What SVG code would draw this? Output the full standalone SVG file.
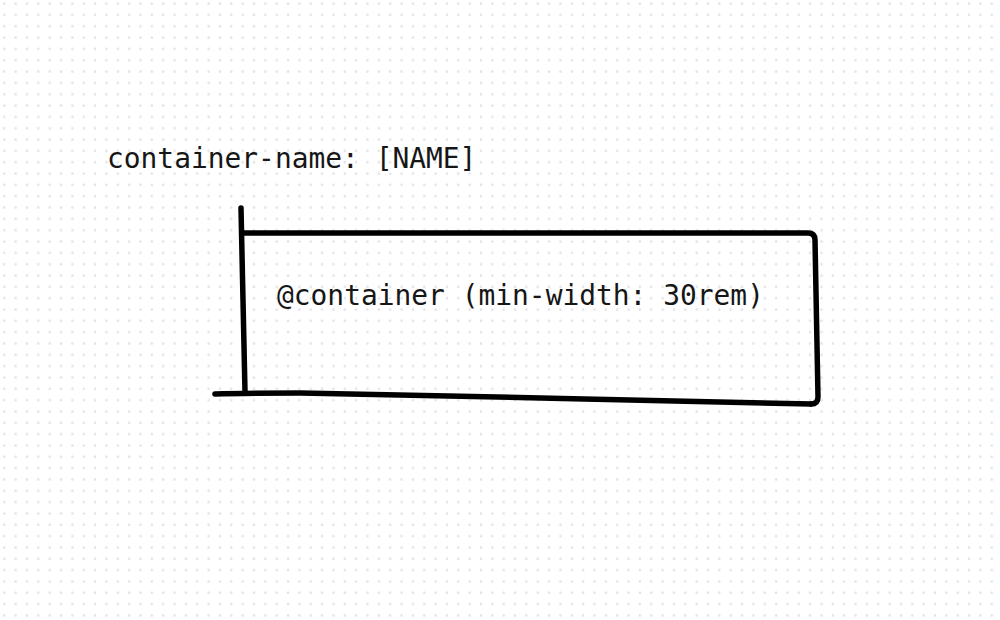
<svg xmlns="http://www.w3.org/2000/svg" width="1000" height="620" viewBox="0 0 1000 620">
  <defs>
    <pattern id="dots" x="-1.4" y="-1.7" width="11.35" height="11.33" patternUnits="userSpaceOnUse">
      <circle cx="5.7" cy="5.4" r="1.3" fill="#e1e2ea"/>
    </pattern>
  </defs>
  <style>
    .code { font-family: "DejaVu Sans Mono", "Liberation Mono", monospace; font-size: 27.9px; fill: #161616; }
    .stroke { fill: none; stroke: #000; stroke-width: 5.5; stroke-linecap: round; stroke-linejoin: round; }
  </style>
  <rect width="1000" height="620" fill="#ffffff"/>
  <rect width="1000" height="620" fill="url(#dots)"/>
  <g id="label-name">
    <text class="code" x="107" y="168">container-name: [NAME]</text>
  </g>
  <g id="container-box">
    <path class="stroke" d="M241 208 C242 270 244 330 245 392"/>
    <path class="stroke" d="M244 233 L808 233 Q815 233 815 240 C816 290 817 340 818 397 Q818 404 811 404"/>
    <path class="stroke" d="M811 404 C650 401 450 395 300 393 C270 393 240 393 215 394"/>
    <text class="code" x="277" y="305">@container (min-width: 30rem)</text>
  </g>
</svg>
